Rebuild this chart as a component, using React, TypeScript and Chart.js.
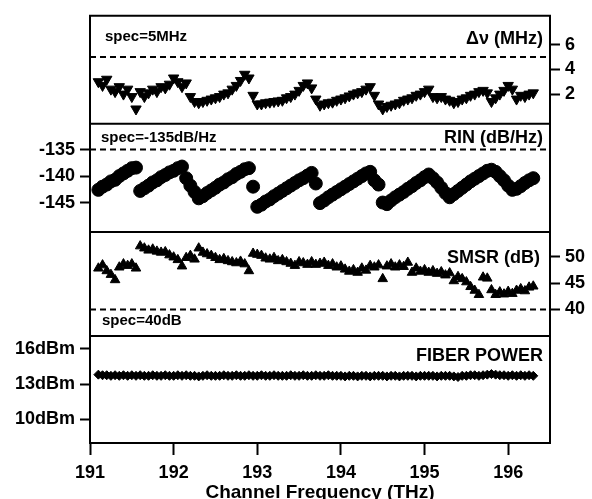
import React, { useEffect, useRef } from "react";
import { Chart, registerables } from "chart.js";

Chart.register(...registerables);

// ---------- data ----------
const FREQ_THZ = [
  191.1, 191.15, 191.2, 191.25, 191.3, 191.35, 191.4, 191.45, 191.5, 191.55,
  191.6, 191.65, 191.7, 191.75, 191.8, 191.85, 191.9, 191.95, 192.0, 192.05,
  192.1, 192.15, 192.2, 192.25, 192.3, 192.35, 192.4, 192.45, 192.5, 192.55,
  192.6, 192.65, 192.7, 192.75, 192.8, 192.85, 192.9, 192.95, 193.0, 193.05,
  193.1, 193.15, 193.2, 193.25, 193.3, 193.35, 193.4, 193.45, 193.5, 193.55,
  193.6, 193.65, 193.7, 193.75, 193.8, 193.85, 193.9, 193.95, 194.0, 194.05,
  194.1, 194.15, 194.2, 194.25, 194.3, 194.35, 194.4, 194.45, 194.5, 194.55,
  194.6, 194.65, 194.7, 194.75, 194.8, 194.85, 194.9, 194.95, 195.0, 195.05,
  195.1, 195.15, 195.2, 195.25, 195.3, 195.35, 195.4, 195.45, 195.5, 195.55,
  195.6, 195.65, 195.7, 195.75, 195.8, 195.85, 195.9, 195.95, 196.0, 196.05,
  196.1, 196.15, 196.2, 196.25, 196.3,
];

const LINEWIDTH_MHZ = [
  3.0, 2.7, 3.2, 2.4, 2.2, 2.6, 2.0, 2.4, 1.8, 0.8,
  2.2, 1.8, 2.1, 2.4, 2.2, 2.6, 2.5, 2.8, 3.3, 3.0,
  2.6, 2.9, 1.8, 1.4, 1.3, 1.4, 1.5, 1.6, 1.7, 1.8,
  2.0, 2.1, 2.4, 2.7, 3.1, 3.6, 3.3, 1.9, 1.2, 1.2,
  1.3, 1.35, 1.4, 1.45, 1.5, 1.7, 1.8, 2.0, 2.3, 2.7,
  2.9, 2.5, 1.6, 1.1, 1.2, 1.3, 1.35, 1.5, 1.6, 1.7,
  1.85, 2.0, 2.1, 2.2, 2.4, 2.6, 1.9, 1.2, 0.8, 1.0,
  1.1, 1.2, 1.3, 1.5, 1.6, 1.7, 1.9, 2.0, 2.2, 2.4,
  1.8, 1.7, 1.8, 1.6, 1.5, 1.3, 1.4, 1.6, 1.7, 1.9,
  2.0, 2.2, 2.3, 2.1, 1.4, 1.7, 2.0, 2.3, 2.7, 2.4,
  1.6, 1.9, 1.8, 2.0, 2.1,
];

const RIN_DBHZ = [
  -142.6, -142.0, -141.6, -141.0, -140.7, -140.0, -139.5, -139.0, -138.5, -138.4,
  -142.8, -142.3, -141.8, -141.2, -140.8, -140.2, -139.8, -139.3, -139.0, -138.5, -138.2,
  -140.4, -141.8, -143.0, -144.2, -143.8, -143.2, -142.7, -142.2, -141.6, -141.2,
  -140.6, -140.2, -139.6, -139.2, -138.7, -138.5, -142.0,
  -145.8, -145.4, -144.8, -144.4, -143.8, -143.3, -142.8, -142.3, -141.8, -141.3,
  -140.8, -140.4, -139.9, -139.4, -141.4,
  -145.1, -144.6, -144.0, -143.5, -143.0, -142.5, -142.0, -141.5, -141.0, -140.5,
  -140.0, -139.5, -139.2, -140.8, -141.6,
  -145.0, -145.3, -144.6, -144.0, -143.5, -143.0, -142.4, -141.9, -141.3, -140.8,
  -140.2, -139.7, -140.4, -141.2, -142.2, -143.2,
  -144.0, -143.4, -142.8, -142.2, -141.6, -141.0, -140.5, -140.0, -139.5, -139.0,
  -138.8, -139.2, -140.0, -140.8, -141.8, -142.6, -142.4, -141.9, -141.3, -140.8, -140.4,
];

const SMSR_DB = [
  47.8, 48.4, 47.3, 46.6, 45.6, 48.0, 48.6, 48.3, 48.6, 47.8,
  52.0, 51.6, 51.2, 51.4, 51.0, 50.8, 50.9, 50.3, 49.9, 49.4,
  48.2, 49.8, 50.2, 49.5, 51.6, 50.8, 50.5, 50.2, 49.8, 49.4,
  49.6, 49.2, 49.0, 48.8, 49.1, 48.6, 47.3, 50.6, 50.4, 50.2,
  49.7, 49.5, 49.8, 49.2, 49.4, 49.0, 48.7, 48.3, 49.0, 48.8,
  48.5, 49.0, 48.5, 48.7, 48.9, 48.3, 48.6, 48.0, 48.2, 47.6,
  47.2, 47.5, 47.0, 47.8, 47.4, 48.3, 48.0, 48.4, 45.8, 48.2,
  48.6, 48.0, 48.4, 48.1, 48.9, 47.0, 47.8, 47.2, 47.5, 47.0,
  47.3, 46.8, 47.1, 46.5, 46.9, 45.4, 46.2, 45.8, 45.2, 44.3,
  43.6, 42.8, 46.1, 45.9, 43.7, 42.8, 43.3, 42.9, 43.4, 43.0,
  43.6, 43.9, 43.5, 44.2, 44.4,
];

const FIBER_POWER_DBM = [
  13.8, 13.75, 13.75, 13.7, 13.75, 13.7, 13.75, 13.7, 13.75, 13.7,
  13.75, 13.7, 13.7, 13.75, 13.7, 13.7, 13.75, 13.7, 13.7, 13.75,
  13.7, 13.75, 13.7, 13.7, 13.65, 13.7, 13.75, 13.7, 13.7, 13.7,
  13.75, 13.7, 13.7, 13.75, 13.7, 13.7, 13.75, 13.7, 13.7, 13.75,
  13.7, 13.7, 13.75, 13.7, 13.7, 13.7, 13.75, 13.7, 13.7, 13.75,
  13.7, 13.7, 13.75, 13.7, 13.7, 13.75, 13.7, 13.7, 13.7, 13.65,
  13.7, 13.7, 13.65, 13.7, 13.7, 13.65, 13.7, 13.7, 13.7, 13.65,
  13.7, 13.7, 13.65, 13.7, 13.7, 13.7, 13.65, 13.7, 13.7, 13.7,
  13.7, 13.65, 13.7, 13.7, 13.7, 13.65, 13.6, 13.7, 13.7, 13.75,
  13.75, 13.7, 13.75, 13.8, 13.85, 13.8, 13.75, 13.75, 13.7, 13.75,
  13.7, 13.75, 13.7, 13.75, 13.7,
];

const SPEC_LINEWIDTH_MHZ = 5;
const SPEC_RIN_DBHZ = -135;
const SPEC_SMSR_DB = 40;

const X_RANGE = [191, 196.5];
const X_TICKS = [191, 192, 193, 194, 195, 196];
const DV_TICKS = [2, 4, 6];
const RIN_TICKS = [-145, -140, -135];
const SMSR_TICKS = [40, 45, 50];
const PW_TICKS = [10, 13, 16];

const X_TITLE = "Channel Frequency (THz)";
const PANEL_LABELS = ["Δν (MHz)", "RIN (dB/Hz)", "SMSR (dB)", "FIBER POWER"];
const SPEC_LABELS = ["spec=5MHz", "spec=-135dB/Hz", "spec=40dB"];

// ---------- styling ----------
const FONT = "'Liberation Sans', Arial, Helvetica, sans-serif";
const BLACK = "#000";

function pts(ys: number[]) {
  return ys.map((y, i) => ({ x: FREQ_THZ[i], y }));
}

function yAxis(
  position: "left" | "right",
  weight: number,
  stackWeight: number,
  min: number,
  max: number,
  ticks: number[] | null,
  fmt?: (v: number) => string
): any {
  return {
    type: "linear",
    position,
    stack: "panels",
    stackWeight,
    weight,
    min,
    max,
    afterFit: (s: any) => {
      s.width = position === "left" ? 90 : 42;
    },
    afterBuildTicks: (s: any) => {
      s.ticks = (ticks || []).map((v) => ({ value: v }));
    },
    ticks: {
      display: !!ticks,
      font: { family: FONT, size: 18, weight: "bold" },
      color: BLACK,
      padding: 5,
      callback: (v: number) => (fmt ? fmt(v) : String(v)),
    },
    grid: {
      display: true,
      drawOnChartArea: false,
      drawTicks: !!ticks,
      tickLength: 10,
      tickWidth: 2,
      tickColor: BLACK,
    },
    border: { display: true, width: 2, color: BLACK },
  };
}

const framePlugin = {
  id: "panelFrames",
  afterDraw(chart: any) {
    const { ctx, chartArea: a, scales } = chart;
    const panels = ["dvL", "rin", "smL", "pw"].map((id) => scales[id]);
    ctx.save();
    ctx.strokeStyle = BLACK;
    ctx.lineWidth = 2;
    ctx.beginPath();
    panels.forEach((s: any) => {
      ctx.moveTo(a.left - 1, s.top);
      ctx.lineTo(a.right + 1, s.top);
    });
    ctx.moveTo(a.left - 1, a.bottom);
    ctx.lineTo(a.right + 1, a.bottom);
    ctx.stroke();

    ctx.fillStyle = BLACK;
    ctx.textBaseline = "middle";
    ctx.font = `bold 18px ${FONT}`;
    ctx.textAlign = "right";
    const labelDy = [23, 14, 26, 20];
    const labelDx = [7, 7, 10, 7];
    PANEL_LABELS.forEach((t, i) => {
      ctx.fillText(t, a.right - labelDx[i], panels[i].top + labelDy[i]);
    });
    ctx.font = `bold 15px ${FONT}`;
    ctx.textAlign = "left";
    const specDx = [15, 11, 12];
    const specDy = [21, 14.5, 89];
    SPEC_LABELS.forEach((t, i) => {
      ctx.fillText(t, a.left + specDx[i], panels[i].top + specDy[i]);
    });
    ctx.restore();
  },
};

export default function App() {
  const ref = useRef<HTMLCanvasElement | null>(null);

  useEffect(() => {
    if (!ref.current) return;
    const specLine = (y: number, axis: string) => ({
      type: "line",
      data: [
        { x: X_RANGE[0], y },
        { x: X_RANGE[1], y },
      ],
      yAxisID: axis,
      showLine: true,
      borderColor: BLACK,
      borderWidth: 2,
      borderDash: [6, 4],
      pointRadius: 0,
      fill: false,
    });
    const marker = (style: string, radius: number, rotation = 0) => ({
      pointStyle: style,
      pointRadius: radius,
      rotation,
      backgroundColor: BLACK,
      borderColor: BLACK,
      borderWidth: 1,
      showLine: false,
    });

    const chart = new Chart(ref.current, {
      type: "scatter",
      data: {
        datasets: [
          specLine(SPEC_LINEWIDTH_MHZ, "dv") as any,
          specLine(SPEC_RIN_DBHZ, "rin") as any,
          specLine(SPEC_SMSR_DB, "sm") as any,
          { label: "linewidth", data: pts(LINEWIDTH_MHZ), yAxisID: "dv", ...marker("triangle", 6, 180) },
          { label: "RIN", data: pts(RIN_DBHZ), yAxisID: "rin", ...marker("circle", 6.5) },
          { label: "SMSR", data: pts(SMSR_DB), yAxisID: "sm", ...marker("triangle", 5.5) },
          { label: "fiber power", data: pts(FIBER_POWER_DBM), yAxisID: "pw", ...marker("rectRot", 4.5) },
        ] as any,
      },
      options: {
        animation: false,
        responsive: false,
        devicePixelRatio: 1,
        layout: { padding: { top: 12, left: 0, right: 0, bottom: 0 } },
        plugins: { legend: { display: false }, tooltip: { enabled: false } },
        scales: {
          x: {
            type: "linear",
            position: "bottom",
            min: X_RANGE[0],
            max: X_RANGE[1],
            afterFit: (s: any) => {
              s.height = 56;
            },
            afterBuildTicks: (s: any) => {
              s.ticks = X_TICKS.map((v) => ({ value: v }));
            },
            ticks: {
              font: { family: FONT, size: 18, weight: "bold" },
              color: BLACK,
              padding: 7,
              maxRotation: 0,
              callback: (v: number) => String(v),
            },
            grid: {
              display: true,
              drawOnChartArea: false,
              drawTicks: true,
              tickLength: 12,
              tickWidth: 2,
              tickColor: BLACK,
            },
            border: { display: true, width: 2, color: BLACK },
            title: {
              display: true,
              text: X_TITLE,
              color: BLACK,
              font: { family: FONT, size: 19, weight: "bold", lineHeight: 1 },
              padding: { top: 0, bottom: -3 },
            },
          },
          dvL: yAxis("left", 4, 109, 0, 1, null),
          rin: yAxis("left", 3, 109, -150.54, -130.13, RIN_TICKS),
          smL: yAxis("left", 2, 105, 0, 1, null),
          pw: yAxis("left", 1, 108, 7.97, 17.1, PW_TICKS, (v) => `${v}dBm`),
          dv: yAxis("right", 1, 109, -0.4, 8.32, DV_TICKS),
          rinR: yAxis("right", 2, 109, 0, 1, null),
          sm: yAxis("right", 3, 105, 35.0, 54.69, SMSR_TICKS),
          pwR: yAxis("right", 4, 108, 0, 1, null),
        } as any,
      },
      plugins: [framePlugin as any],
    });
    return () => chart.destroy();
  }, []);

  return (
    <div style={{ position: "absolute", left: 0, top: 0, width: 592, height: 499, background: "#fff" }}>
      <canvas ref={ref} width={592} height={499} />
    </div>
  );
}
